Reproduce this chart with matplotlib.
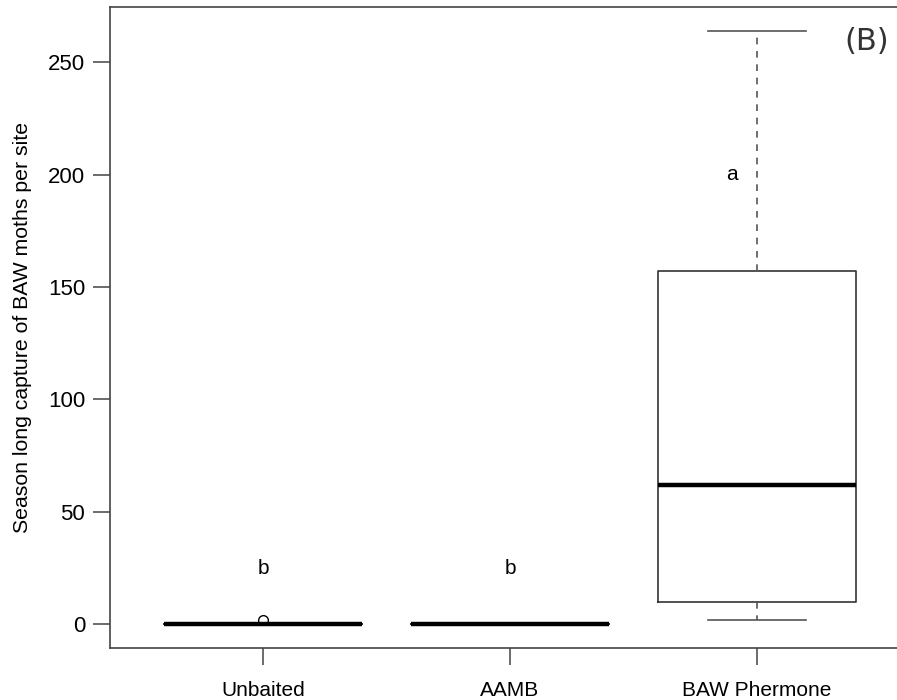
import matplotlib
matplotlib.use("Agg")
import matplotlib.pyplot as plt

groups = ["Unbaited", "AAMB", "BAW Phermone"]
medians = [0, 0, 62]
q1 = [0, 0, 10]
q3 = [0, 0, 157]
whisk_lo = [0, 0, 2]
whisk_hi = [0, 0, 264]
outliers = [[2], [], []]
letters = ["b", "b", "a"]
letter_x = [1, 2, 2.9]
letter_y = [25, 25, 200]
y_ticks = [0, 50, 100, 150, 200, 250]

plt.rcParams["font.family"] = ["Liberation Sans", "DejaVu Sans"]

fig = plt.figure(figsize=(8.97, 7.0), dpi=100)
ax = fig.add_axes([110 / 897, 52 / 700, 800 / 897, 641 / 700])

stats = []
for i, name in enumerate(groups):
    stats.append({
        "label": name,
        "med": medians[i],
        "q1": q1[i],
        "q3": q3[i],
        "whislo": whisk_lo[i],
        "whishi": whisk_hi[i],
        "fliers": outliers[i],
    })

positions = list(range(1, len(groups) + 1))
ax.bxp(
    stats,
    positions=positions,
    widths=0.8,
    capwidths=0.4,
    showfliers=True,
    boxprops=dict(color="#333333", linewidth=1.2),
    medianprops=dict(color="black", linewidth=3.2, solid_capstyle="butt"),
    whiskerprops=dict(color="#555555", linewidth=1.2, linestyle=(0, (4, 4))),
    capprops=dict(color="#555555", linewidth=1.2),
    flierprops=dict(marker="o", markerfacecolor="white", markeredgecolor="black",
                    markersize=7, markeredgewidth=1.0),
)

for x, lab, y in zip(letter_x, letters, letter_y):
    ax.text(x, y, lab, ha="center", va="center", fontsize=15)

ax.set_xlim(0.38, 3.62)
ax.set_ylim(-10.56, 274.56)
ax.set_xticks(positions)
ax.set_xticklabels(groups, fontsize=15)
ax.set_yticks(y_ticks)
ax.set_yticklabels([str(v) for v in y_ticks], fontsize=16)
ax.tick_params(axis="both", length=12, width=1.1, color="#444444", pad=6)
ax.tick_params(axis="x", pad=12)
for s in ax.spines.values():
    s.set_color("#444444")
    s.set_linewidth(1.2)

ax.set_ylabel("Season long capture of BAW moths per site", fontsize=15.3)
ax.yaxis.set_label_coords(-0.0975, 0.5)

fig.text(867 / 897, 1 - 41 / 700, "(B)", fontsize=22, family="DejaVu Sans",
         color="#333333", ha="center", va="center")

fig.savefig("out.png", dpi=100)
